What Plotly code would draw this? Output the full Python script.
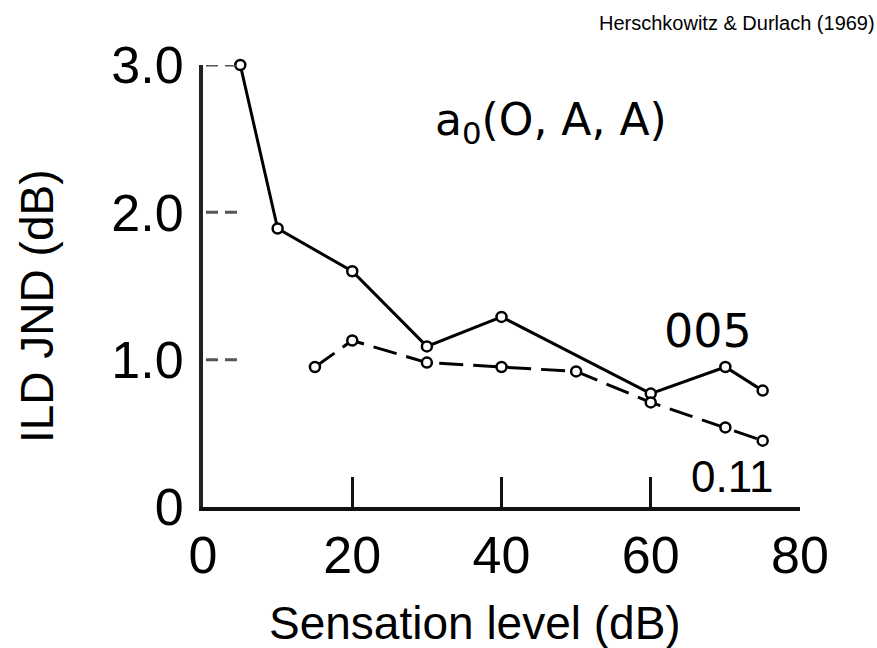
import plotly.graph_objects as go

# Sensation level (dB) and ILD JND (dB) for the two conditions
level_005 = [5, 10, 20, 30, 40, 60, 70, 75]
jnd_005 = [3.0, 1.89, 1.60, 1.09, 1.29, 0.77, 0.95, 0.79]

level_011 = [15, 20, 30, 40, 50, 60, 70, 75]
jnd_011 = [0.95, 1.13, 0.98, 0.95, 0.92, 0.71, 0.54, 0.45]

x_ticks = [0, 20, 40, 60, 80]
x_ticktext = ["0", "20", "40", "60", "80"]
y_ticks = [0, 1, 2, 3]
y_ticktext = ["0", "1.0", "2.0", "3.0"]

W, H = 877, 648
L, R, T, B = 203, 77, 65, 141
PW, PH = W - L - R, H - T - B


def px(x):
    return (x - L) / PW


def py(y):
    return (H - B - y) / PH


SANS = "Liberation Sans, Arial, sans-serif"
DEJAVU = "DejaVu Sans, sans-serif"

marker = dict(symbol="circle", size=10, color="white",
              line=dict(color="black", width=2.5))

fig = go.Figure()
fig.add_trace(go.Scatter(
    x=level_005, y=jnd_005, mode="lines+markers", name="005",
    line=dict(color="black", width=3), marker=marker, cliponaxis=False,
))
fig.add_trace(go.Scatter(
    x=level_011, y=jnd_011, mode="lines+markers", name="0.11",
    line=dict(color="black", width=3, dash="24px,10px"), marker=marker,
    cliponaxis=False,
))

# short dashed stubs marking the y ticks
for v in y_ticks[1:]:
    fig.add_shape(type="line", xref="paper", yref="y",
                  x0=0.005, x1=0.062, y0=v, y1=v,
                  line=dict(color="#555", width=3, dash="12px,7px"))

annotations = [
    dict(text="Herschkowitz &amp; Durlach (1969)", x=px(877), y=py(23),
         xanchor="right", yanchor="middle",
         font=dict(family=SANS, size=20, color="black")),
    dict(text="a<sub>0</sub>(O, A, A)", x=px(551), y=py(122),
         xanchor="center", yanchor="middle",
         font=dict(family=DEJAVU, size=44, color="black")),
    dict(text="005", x=px(708), y=py(331),
         xanchor="center", yanchor="middle",
         font=dict(family=DEJAVU, size=46, color="black")),
    dict(text="0.11", x=px(732), y=py(476),
         xanchor="center", yanchor="middle",
         font=dict(family=SANS, size=44, color="black")),
    dict(text="Sensation level (dB)", x=px(475), y=py(623),
         xanchor="center", yanchor="middle",
         font=dict(family=SANS, size=46, color="black")),
    dict(text="ILD JND (dB)", x=px(37), y=py(307), textangle=-90,
         xanchor="center", yanchor="middle",
         font=dict(family=SANS, size=46, color="black")),
]
for a in annotations:
    a.update(xref="paper", yref="paper", showarrow=False)

fig.update_layout(
    width=W, height=H,
    margin=dict(l=L, r=R, t=T, b=B, pad=0),
    paper_bgcolor="white", plot_bgcolor="white",
    showlegend=False,
    annotations=annotations,
    xaxis=dict(
        range=[0, 80], tickvals=x_ticks, ticktext=x_ticktext,
        showgrid=False, zeroline=False, showline=True,
        linecolor="#111", linewidth=3.5,
        ticks="inside", ticklen=30, tickwidth=3, tickcolor="#111",
        ticklabelstandoff=0, automargin=False,
        tickfont=dict(family=SANS, size=52, color="black"),
    ),
    yaxis=dict(
        range=[0, 3], tickvals=y_ticks, ticktext=y_ticktext,
        showgrid=False, zeroline=False, showline=True,
        linecolor="#222", linewidth=4, ticks="",
        ticklabelstandoff=5, automargin=False,
        tickfont=dict(family=SANS, size=52, color="black"),
    ),
)

fig.write_html("out.html")
